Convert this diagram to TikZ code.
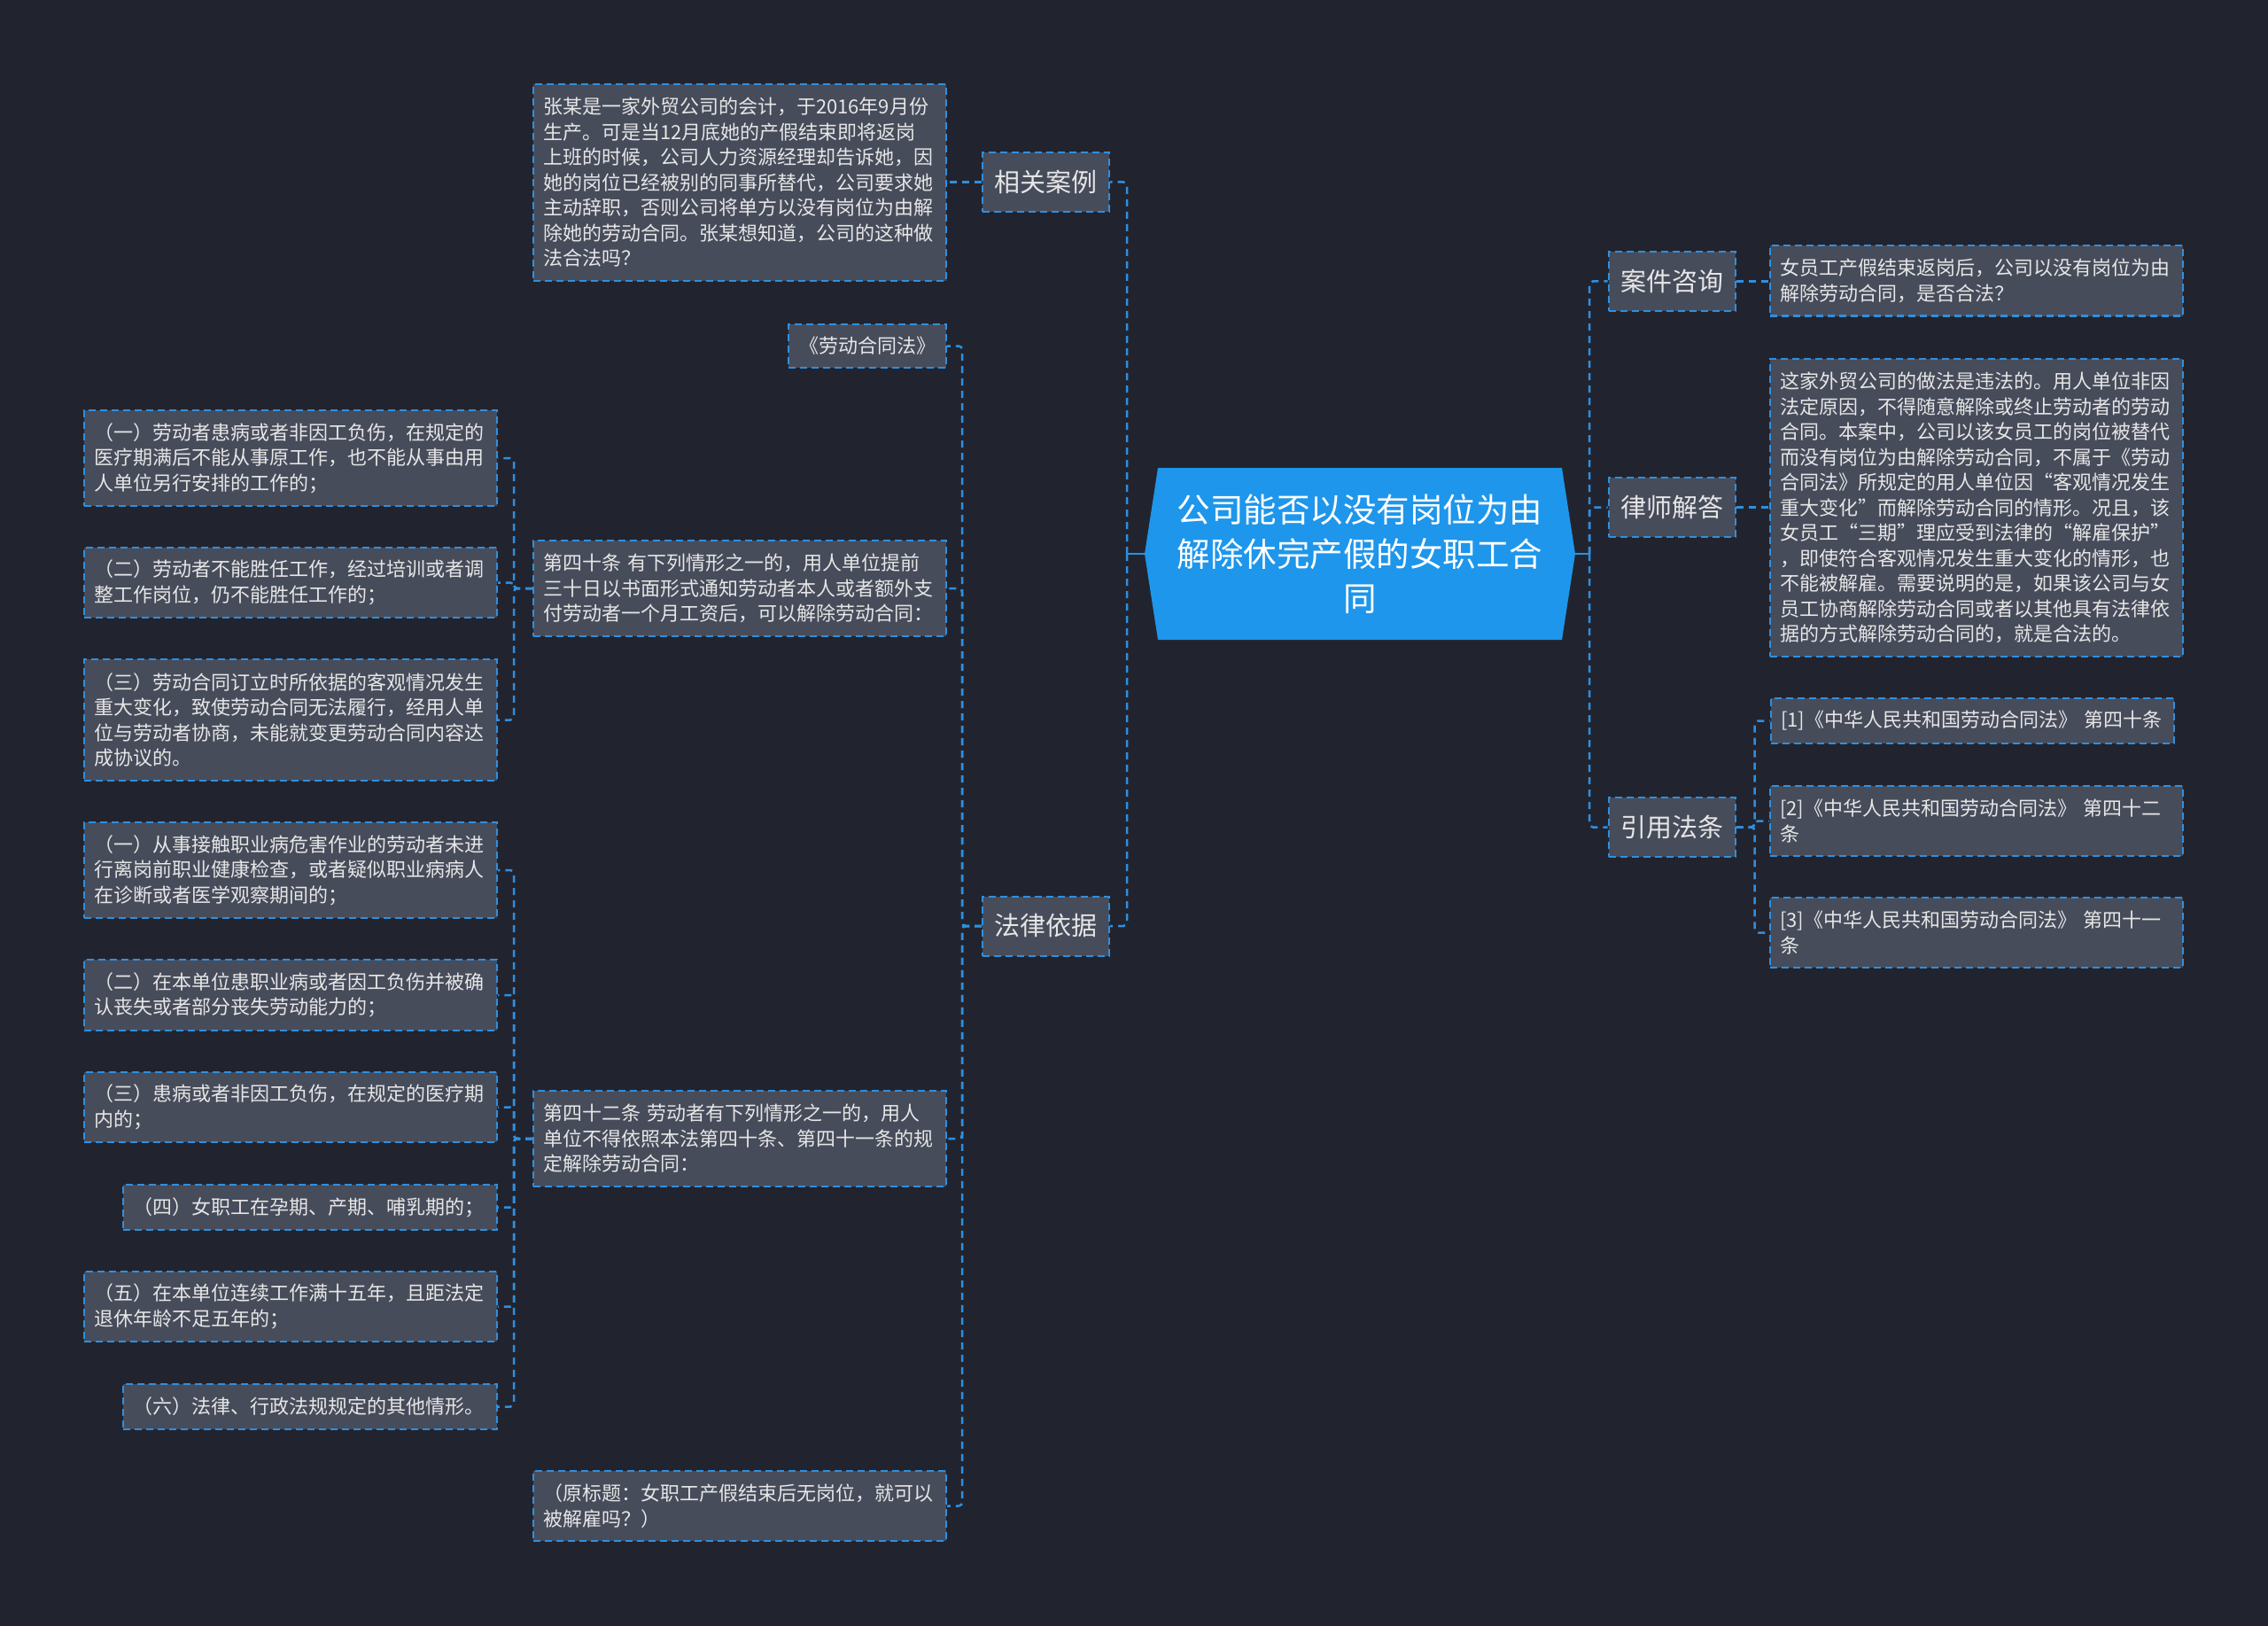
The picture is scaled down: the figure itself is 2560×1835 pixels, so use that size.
\documentclass[tikz,border=0pt]{standalone}
\usepackage{fontspec}
\setmainfont{Noto Sans CJK SC}
\usetikzlibrary{backgrounds}
\definecolor{bgc}{HTML}{21242F}
\definecolor{boxc}{HTML}{474C5B}
\definecolor{bord}{HTML}{2F8FDF}
\definecolor{cfill}{HTML}{1E96EB}
\definecolor{txt}{HTML}{E6E6E6}
\tikzset{
  box/.style={draw=bord, line width=2pt, dash pattern=on 8pt off 5pt, fill=boxc, text=txt, inner sep=0pt, align=left},
  leaf/.style={box, font=\fontsize{22}{28.5}\selectfont},
  wide/.style={leaf, minimum width=466pt, text width=444pt},
  narrow/.style={leaf, minimum width=422pt, text width=400pt},
  topic/.style={box, align=center, font=\fontsize{29}{34}\selectfont, minimum width=143pt, minimum height=67pt},
  ctext/.style={align=center, text=white, inner sep=0pt, font=\fontsize{37.5}{50}\selectfont, minimum width=486pt, minimum height=194pt},
  conn/.style={draw=bord, line width=2.5pt, dash pattern=on 8pt off 6pt, rounded corners=4pt},
  stub/.style={draw=bord, line width=2.5pt}
}
\begin{document}
\begin{tikzpicture}[x=1pt,y=-1pt]
\fill[bgc] (0,0) rectangle (2560,1835);
\useasboundingbox (0,0) rectangle (2560,1835);
% central
\fill[cfill] (1307,528) -- (1763,528) -- (1778,625) -- (1763,722) -- (1307,722) -- (1292,625) -- cycle;
\node[ctext] (c) at (1535,625) {公司能否以没有岗位为由\\解除休完产假的女职工合\\同};
\coordinate (lt) at (1272,625);
\coordinate (rt) at (1794,625);

% left level 1
\node[topic] (xg) at (1180.5,205.5) {相关案例};
\node[topic] (fl) at (1180.5,1045) {法律依据};

% case
\node[wide, minimum height=222pt] (case) at (835,206) {张某是一家外贸公司的会计，于2016年9月份\\生产。可是当12月底她的产假结束即将返岗\\上班的时候，公司人力资源经理却告诉她，因\\她的岗位已经被别的同事所替代，公司要求她\\主动辞职，否则公司将单方以没有岗位为由解\\除她的劳动合同。张某想知道，公司的这种做\\法合法吗？};

% law children
\node[leaf, align=center, minimum width=178pt, minimum height=49pt] (ldl) at (979,390.5) {《劳动合同法》};
\node[wide, minimum height=108pt] (a40) at (835,664) {第四十条 有下列情形之一的，用人单位提前\\三十日以书面形式通知劳动者本人或者额外支\\付劳动者一个月工资后，可以解除劳动合同：};
\node[wide, minimum height=108pt] (a42) at (835,1285) {第四十二条 劳动者有下列情形之一的，用人\\单位不得依照本法第四十条、第四十一条的规\\定解除劳动合同：};
\node[wide, minimum height=79pt] (ybt) at (835,1699.5) {（原标题：女职工产假结束后无岗位，就可以\\被解雇吗？）};

% article 40 items
\node[wide, minimum height=108pt] (a401) at (328,517) {（一）劳动者患病或者非因工负伤，在规定的\\医疗期满后不能从事原工作，也不能从事由用\\人单位另行安排的工作的；};
\node[wide, minimum height=79pt] (a402) at (328,657.5) {（二）劳动者不能胜任工作，经过培训或者调\\整工作岗位，仍不能胜任工作的；};
\node[wide, minimum height=137pt] (a403) at (328,812.5) {（三）劳动合同订立时所依据的客观情况发生\\重大变化，致使劳动合同无法履行，经用人单\\位与劳动者协商，未能就变更劳动合同内容达\\成协议的。};

% article 42 items
\node[wide, minimum height=108pt] (a421) at (328,982) {（一）从事接触职业病危害作业的劳动者未进\\行离岗前职业健康检查，或者疑似职业病病人\\在诊断或者医学观察期间的；};
\node[wide, minimum height=80pt] (a422) at (328,1123) {（二）在本单位患职业病或者因工负伤并被确\\认丧失或者部分丧失劳动能力的；};
\node[wide, minimum height=79pt] (a423) at (328,1249.5) {（三）患病或者非因工负伤，在规定的医疗期\\内的；};
\node[narrow, minimum height=51pt] (a424) at (350,1362.5) {（四）女职工在孕期、产期、哺乳期的；};
\node[wide, minimum height=79pt] (a425) at (328,1474.5) {（五）在本单位连续工作满十五年，且距法定\\退休年龄不足五年的；};
\node[narrow, minimum height=51pt] (a426) at (350,1587.5) {（六）法律、行政法规规定的其他情形。};

% right level 1
\node[topic] (zx) at (1887,317.5) {案件咨询};
\node[topic] (ls) at (1887,572.5) {律师解答};
\node[topic] (yy) at (1887,933.5) {引用法条};

\node[wide, minimum height=79pt] (zxt) at (2231,317) {女员工产假结束返岗后，公司以没有岗位为由\\解除劳动合同，是否合法？};
\node[wide, minimum height=336pt] (lst) at (2231,573) {这家外贸公司的做法是违法的。用人单位非因\\法定原因，不得随意解除或终止劳动者的劳动\\合同。本案中，公司以该女员工的岗位被替代\\而没有岗位为由解除劳动合同，不属于《劳动\\合同法》所规定的用人单位因“客观情况发生\\重大变化”而解除劳动合同的情形。况且，该\\女员工“三期”理应受到法律的“解雇保护”\\，即使符合客观情况发生重大变化的情形，也\\不能被解雇。需要说明的是，如果该公司与女\\员工协商解除劳动合同或者以其他具有法律依\\据的方式解除劳动合同的，就是合法的。};
\node[leaf, minimum width=455pt, text width=433pt, minimum height=51pt] (c1) at (2226.5,813.5) {[1]《中华人民共和国劳动合同法》 第四十条};
\node[wide, minimum height=79pt] (c2) at (2231,926.5) {[2]《中华人民共和国劳动合同法》 第四十二\\条};
\node[wide, minimum height=79pt] (c3) at (2231,1052.5) {[3]《中华人民共和国劳动合同法》 第四十一\\条};

% connectors left
\draw[stub] (c.west) -- (lt);
\draw[conn] (lt) |- (xg.east);
\draw[conn] (lt) |- (fl.east);
\draw[conn] (xg.west) -- (case.east |- xg.west);
\foreach \t in {ldl,a40,a42,ybt} \draw[conn] (fl.west) -- ++(-22,0) |- (\t.east);
\foreach \t in {a401,a402,a403} \draw[conn] (a40.west) -- ++(-21,0) |- (\t.east);
\foreach \t in {a421,a422,a423,a424,a425,a426} \draw[conn] (a42.west) -- ++(-21,0) |- (\t.east);

% connectors right
\draw[stub] (c.east) -- (rt);
\foreach \t in {zx,ls,yy} \draw[conn] (rt) |- (\t.west);
\draw[conn] (zx.east) -- (zxt.west |- zx.east);
\draw[conn] (ls.east) -- (lst.west |- ls.east);
\foreach \t in {c1,c2,c3} \draw[conn] (yy.east) -- ++(21,0) |- (\t.west);
\end{tikzpicture}
\end{document}
